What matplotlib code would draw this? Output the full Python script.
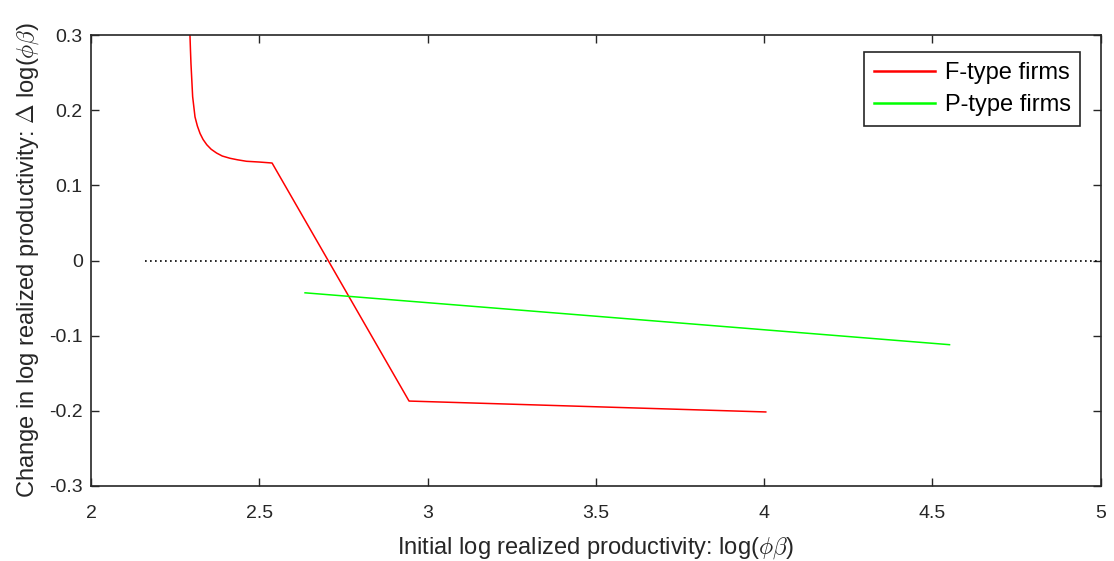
import matplotlib
matplotlib.use("Agg")
import matplotlib.pyplot as plt

plt.rcParams['font.family'] = ['Liberation Sans', 'DejaVu Sans']
plt.rcParams['mathtext.fontset'] = 'cm'

# F-type firms: initial log productivity vs change
f_x = [2.294, 2.2955, 2.297, 2.2995, 2.302, 2.309, 2.316, 2.324, 2.333, 2.344,
       2.357, 2.373, 2.390, 2.413, 2.435, 2.462, 2.500, 2.538, 2.945, 4.005]
f_y = [0.300, 0.280, 0.262, 0.240, 0.218, 0.191, 0.179, 0.169, 0.161, 0.154,
       0.148, 0.143, 0.139, 0.136, 0.134, 0.132, 0.131, 0.1297, -0.187, -0.2015]

# P-type firms
p_x = [2.636, 4.551]
p_y = [-0.043, -0.112]

# zero reference line
zero_x = [2.16, 5.0]
zero_y = [0.0, 0.0]

fig = plt.figure(figsize=(11.14, 5.61), dpi=100)
ax = fig.add_axes([0.0817, 0.1337, 0.9063, 0.8039])

ax.plot(f_x, f_y, color='#ff0000', lw=1.1, label='F-type firms')
ax.plot(p_x, p_y, color='#00ff00', lw=1.1, label='P-type firms')
ax.plot(zero_x, zero_y, color='black', lw=1.2, ls=(0, (1, 2)))

ax.set_xlim(2, 5)
ax.set_ylim(-0.3, 0.3)
ax.set_xticks([2, 2.5, 3, 3.5, 4, 4.5, 5])
ax.set_xticklabels(['2', '2.5', '3', '3.5', '4', '4.5', '5'])
ax.set_yticks([-0.3, -0.2, -0.1, 0, 0.1, 0.2, 0.3])
ax.set_yticklabels(['-0.3', '-0.2', '-0.1', '0', '0.1', '0.2', '0.3'])
ax.tick_params(direction='in', top=True, right=True, length=6, width=1,
               labelsize=14, colors='#262626', pad=6)
ax.tick_params(axis='x', pad=14)
for s in ax.spines.values():
    s.set_color('#262626')
    s.set_linewidth(1.2)

ax.set_xlabel(r'Initial log realized productivity: log($\phi\beta$)', fontsize=17, color='#262626', labelpad=9)
ax.set_ylabel(r'Change in log realized productivity: $\Delta$ log($\phi\beta$)', fontsize=17, color='#262626', labelpad=6)

leg = ax.legend(loc='upper right', fontsize=17, fancybox=False, framealpha=1,
                edgecolor='#262626', bbox_to_anchor=(0.980, 0.962), borderaxespad=0,
                handlelength=2.6, borderpad=0.42, labelspacing=0.42, handletextpad=0.4)
leg.get_frame().set_linewidth(1.2)
for line in leg.get_lines():
    line.set_linewidth(1.8)

fig.savefig('out.png', dpi=100)
